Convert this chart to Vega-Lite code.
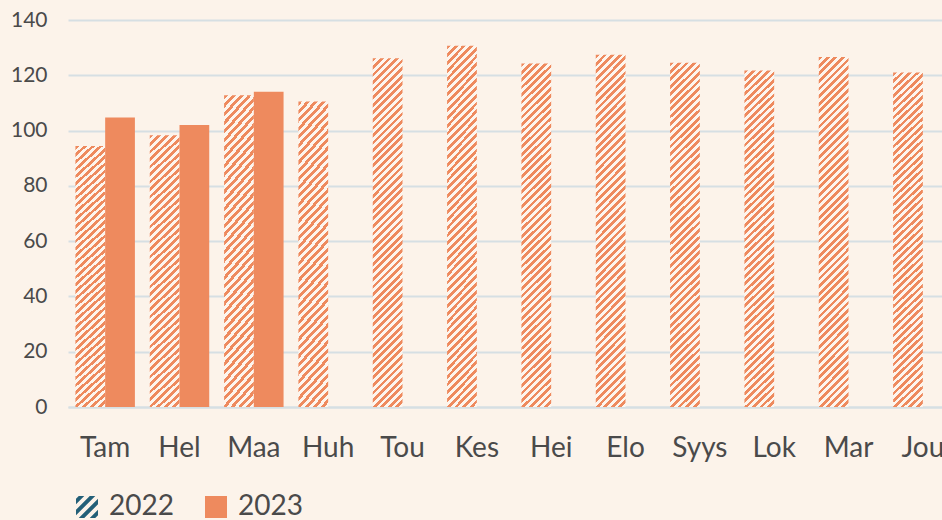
{
  "$schema": "https://vega.github.io/schema/vega-lite/v6.json",
  "width": 892,
  "height": 387,
  "autosize": {"type": "none"},
  "padding": {"left": 68, "top": 20, "right": -18, "bottom": 113},
  "background": "#fcf3ea",
  "config": {
    "view": {"stroke": null},
    "font": "Lato",
    "legend": {
      "labelFont": "Lato",
      "labelFontSize": 28,
      "labelColor": "#4a4a4a",
      "labelOffset": 8,
      "columnPadding": 28,
      "symbolSize": 484,
      "symbolStrokeWidth": 0,
      "symbolOpacity": 1,
      "padding": 0
    }
  },
  "data": {
    "values": [
      {"month": "Tam", "year": "2022", "value": 94.4, "grp": "a"},
      {"month": "Hel", "year": "2022", "value": 98.3, "grp": "a"},
      {"month": "Maa", "year": "2022", "value": 112.8, "grp": "a"},
      {"month": "Huh", "year": "2022", "value": 110.5, "grp": "a"},
      {"month": "Tou", "year": "2022", "value": 126.2, "grp": "b"},
      {"month": "Kes", "year": "2022", "value": 130.7, "grp": "b"},
      {"month": "Hei", "year": "2022", "value": 124.3, "grp": "b"},
      {"month": "Elo", "year": "2022", "value": 127.4, "grp": "b"},
      {"month": "Syys", "year": "2022", "value": 124.5, "grp": "b"},
      {"month": "Lok", "year": "2022", "value": 121.7, "grp": "b"},
      {"month": "Mar", "year": "2022", "value": 126.6, "grp": "b"},
      {"month": "Jou", "year": "2022", "value": 121.0, "grp": "b"},
      {"month": "Tam", "year": "2023", "value": 104.7, "grp": "s"},
      {"month": "Hel", "year": "2023", "value": 102.0, "grp": "s"},
      {"month": "Maa", "year": "2023", "value": 114.0, "grp": "s"}
    ]
  },
  "encoding": {
    "x": {
      "field": "month",
      "type": "nominal",
      "sort": ["Tam", "Hel", "Maa", "Huh", "Tou", "Kes", "Hei", "Elo", "Syys", "Lok", "Mar", "Jou"],
      "scale": {"paddingInner": 0.2, "paddingOuter": 0.1},
      "axis": {
        "title": null,
        "labelAngle": 0,
        "labelFontSize": 28,
        "labelColor": "#4a4a4a",
        "labelPadding": 27,
        "ticks": false,
        "domainColor": "#d6dfe3",
        "domainWidth": 2
      }
    },
    "xOffset": {
      "field": "year",
      "type": "nominal",
      "scale": {"domain": ["2022", "2023"], "paddingInner": 0, "paddingOuter": 0}
    },
    "y": {
      "field": "value",
      "type": "quantitative",
      "scale": {"domain": [0, 140]},
      "axis": {
        "title": null,
        "values": [0, 20, 40, 60, 80, 100, 120, 140],
        "grid": true,
        "gridColor": "#d6dfe3",
        "gridWidth": 2,
        "domain": false,
        "ticks": false,
        "labelFontSize": 21,
        "labelColor": "#4a4a4a",
        "labelAlign": "right",
        "labelBaseline": "middle",
        "labelPadding": 21
      }
    }
  },
  "layer": [
    {
      "transform": [{"filter": "datum.grp === 'a'"}],
      "mark": {
        "type": "bar",
        "color": {
          "gradient": "linear",
          "x1": 0, "y1": 0, "x2": 0.1138, "y2": 1.0923,
          "stops": [
            {"offset": 0, "color": "#ee8a5e"}, {"offset": 0.0125, "color": "#ee8a5e"}, {"offset": 0.0125, "color": "#fdf5ee"}, {"offset": 0.025, "color": "#fdf5ee"},
            {"offset": 0.025, "color": "#ee8a5e"}, {"offset": 0.0375, "color": "#ee8a5e"}, {"offset": 0.0375, "color": "#fdf5ee"}, {"offset": 0.05, "color": "#fdf5ee"},
            {"offset": 0.05, "color": "#ee8a5e"}, {"offset": 0.0625, "color": "#ee8a5e"}, {"offset": 0.0625, "color": "#fdf5ee"}, {"offset": 0.075, "color": "#fdf5ee"},
            {"offset": 0.075, "color": "#ee8a5e"}, {"offset": 0.0875, "color": "#ee8a5e"}, {"offset": 0.0875, "color": "#fdf5ee"}, {"offset": 0.1, "color": "#fdf5ee"},
            {"offset": 0.1, "color": "#ee8a5e"}, {"offset": 0.1125, "color": "#ee8a5e"}, {"offset": 0.1125, "color": "#fdf5ee"}, {"offset": 0.125, "color": "#fdf5ee"},
            {"offset": 0.125, "color": "#ee8a5e"}, {"offset": 0.1375, "color": "#ee8a5e"}, {"offset": 0.1375, "color": "#fdf5ee"}, {"offset": 0.15, "color": "#fdf5ee"},
            {"offset": 0.15, "color": "#ee8a5e"}, {"offset": 0.1625, "color": "#ee8a5e"}, {"offset": 0.1625, "color": "#fdf5ee"}, {"offset": 0.175, "color": "#fdf5ee"},
            {"offset": 0.175, "color": "#ee8a5e"}, {"offset": 0.1875, "color": "#ee8a5e"}, {"offset": 0.1875, "color": "#fdf5ee"}, {"offset": 0.2, "color": "#fdf5ee"},
            {"offset": 0.2, "color": "#ee8a5e"}, {"offset": 0.2125, "color": "#ee8a5e"}, {"offset": 0.2125, "color": "#fdf5ee"}, {"offset": 0.225, "color": "#fdf5ee"},
            {"offset": 0.225, "color": "#ee8a5e"}, {"offset": 0.2375, "color": "#ee8a5e"}, {"offset": 0.2375, "color": "#fdf5ee"}, {"offset": 0.25, "color": "#fdf5ee"},
            {"offset": 0.25, "color": "#ee8a5e"}, {"offset": 0.2625, "color": "#ee8a5e"}, {"offset": 0.2625, "color": "#fdf5ee"}, {"offset": 0.275, "color": "#fdf5ee"},
            {"offset": 0.275, "color": "#ee8a5e"}, {"offset": 0.2875, "color": "#ee8a5e"}, {"offset": 0.2875, "color": "#fdf5ee"}, {"offset": 0.3, "color": "#fdf5ee"},
            {"offset": 0.3, "color": "#ee8a5e"}, {"offset": 0.3125, "color": "#ee8a5e"}, {"offset": 0.3125, "color": "#fdf5ee"}, {"offset": 0.325, "color": "#fdf5ee"},
            {"offset": 0.325, "color": "#ee8a5e"}, {"offset": 0.3375, "color": "#ee8a5e"}, {"offset": 0.3375, "color": "#fdf5ee"}, {"offset": 0.35, "color": "#fdf5ee"},
            {"offset": 0.35, "color": "#ee8a5e"}, {"offset": 0.3625, "color": "#ee8a5e"}, {"offset": 0.3625, "color": "#fdf5ee"}, {"offset": 0.375, "color": "#fdf5ee"},
            {"offset": 0.375, "color": "#ee8a5e"}, {"offset": 0.3875, "color": "#ee8a5e"}, {"offset": 0.3875, "color": "#fdf5ee"}, {"offset": 0.4, "color": "#fdf5ee"},
            {"offset": 0.4, "color": "#ee8a5e"}, {"offset": 0.4125, "color": "#ee8a5e"}, {"offset": 0.4125, "color": "#fdf5ee"}, {"offset": 0.425, "color": "#fdf5ee"},
            {"offset": 0.425, "color": "#ee8a5e"}, {"offset": 0.4375, "color": "#ee8a5e"}, {"offset": 0.4375, "color": "#fdf5ee"}, {"offset": 0.45, "color": "#fdf5ee"},
            {"offset": 0.45, "color": "#ee8a5e"}, {"offset": 0.4625, "color": "#ee8a5e"}, {"offset": 0.4625, "color": "#fdf5ee"}, {"offset": 0.475, "color": "#fdf5ee"},
            {"offset": 0.475, "color": "#ee8a5e"}, {"offset": 0.4875, "color": "#ee8a5e"}, {"offset": 0.4875, "color": "#fdf5ee"}, {"offset": 0.5, "color": "#fdf5ee"},
            {"offset": 0.5, "color": "#ee8a5e"}, {"offset": 0.5125, "color": "#ee8a5e"}, {"offset": 0.5125, "color": "#fdf5ee"}, {"offset": 0.525, "color": "#fdf5ee"},
            {"offset": 0.525, "color": "#ee8a5e"}, {"offset": 0.5375, "color": "#ee8a5e"}, {"offset": 0.5375, "color": "#fdf5ee"}, {"offset": 0.55, "color": "#fdf5ee"},
            {"offset": 0.55, "color": "#ee8a5e"}, {"offset": 0.5625, "color": "#ee8a5e"}, {"offset": 0.5625, "color": "#fdf5ee"}, {"offset": 0.575, "color": "#fdf5ee"},
            {"offset": 0.575, "color": "#ee8a5e"}, {"offset": 0.5875, "color": "#ee8a5e"}, {"offset": 0.5875, "color": "#fdf5ee"}, {"offset": 0.6, "color": "#fdf5ee"},
            {"offset": 0.6, "color": "#ee8a5e"}, {"offset": 0.6125, "color": "#ee8a5e"}, {"offset": 0.6125, "color": "#fdf5ee"}, {"offset": 0.625, "color": "#fdf5ee"},
            {"offset": 0.625, "color": "#ee8a5e"}, {"offset": 0.6375, "color": "#ee8a5e"}, {"offset": 0.6375, "color": "#fdf5ee"}, {"offset": 0.65, "color": "#fdf5ee"},
            {"offset": 0.65, "color": "#ee8a5e"}, {"offset": 0.6625, "color": "#ee8a5e"}, {"offset": 0.6625, "color": "#fdf5ee"}, {"offset": 0.675, "color": "#fdf5ee"},
            {"offset": 0.675, "color": "#ee8a5e"}, {"offset": 0.6875, "color": "#ee8a5e"}, {"offset": 0.6875, "color": "#fdf5ee"}, {"offset": 0.7, "color": "#fdf5ee"},
            {"offset": 0.7, "color": "#ee8a5e"}, {"offset": 0.7125, "color": "#ee8a5e"}, {"offset": 0.7125, "color": "#fdf5ee"}, {"offset": 0.725, "color": "#fdf5ee"},
            {"offset": 0.725, "color": "#ee8a5e"}, {"offset": 0.7375, "color": "#ee8a5e"}, {"offset": 0.7375, "color": "#fdf5ee"}, {"offset": 0.75, "color": "#fdf5ee"},
            {"offset": 0.75, "color": "#ee8a5e"}, {"offset": 0.7625, "color": "#ee8a5e"}, {"offset": 0.7625, "color": "#fdf5ee"}, {"offset": 0.775, "color": "#fdf5ee"},
            {"offset": 0.775, "color": "#ee8a5e"}, {"offset": 0.7875, "color": "#ee8a5e"}, {"offset": 0.7875, "color": "#fdf5ee"}, {"offset": 0.8, "color": "#fdf5ee"},
            {"offset": 0.8, "color": "#ee8a5e"}, {"offset": 0.8125, "color": "#ee8a5e"}, {"offset": 0.8125, "color": "#fdf5ee"}, {"offset": 0.825, "color": "#fdf5ee"},
            {"offset": 0.825, "color": "#ee8a5e"}, {"offset": 0.8375, "color": "#ee8a5e"}, {"offset": 0.8375, "color": "#fdf5ee"}, {"offset": 0.85, "color": "#fdf5ee"},
            {"offset": 0.85, "color": "#ee8a5e"}, {"offset": 0.8625, "color": "#ee8a5e"}, {"offset": 0.8625, "color": "#fdf5ee"}, {"offset": 0.875, "color": "#fdf5ee"},
            {"offset": 0.875, "color": "#ee8a5e"}, {"offset": 0.8875, "color": "#ee8a5e"}, {"offset": 0.8875, "color": "#fdf5ee"}, {"offset": 0.9, "color": "#fdf5ee"},
            {"offset": 0.9, "color": "#ee8a5e"}, {"offset": 0.9125, "color": "#ee8a5e"}, {"offset": 0.9125, "color": "#fdf5ee"}, {"offset": 0.925, "color": "#fdf5ee"},
            {"offset": 0.925, "color": "#ee8a5e"}, {"offset": 0.9375, "color": "#ee8a5e"}, {"offset": 0.9375, "color": "#fdf5ee"}, {"offset": 0.95, "color": "#fdf5ee"},
            {"offset": 0.95, "color": "#ee8a5e"}, {"offset": 0.9625, "color": "#ee8a5e"}, {"offset": 0.9625, "color": "#fdf5ee"}, {"offset": 0.975, "color": "#fdf5ee"},
            {"offset": 0.975, "color": "#ee8a5e"}, {"offset": 0.9875, "color": "#ee8a5e"}, {"offset": 0.9875, "color": "#fdf5ee"}, {"offset": 1, "color": "#fdf5ee"}
          ]
        }
      }
    },
    {
      "transform": [{"filter": "datum.grp === 'b'"}],
      "mark": {
        "type": "bar",
        "color": {
          "gradient": "linear",
          "x1": 0, "y1": 0, "x2": 0.0919, "y2": 1.0775,
          "stops": [
            {"offset": 0, "color": "#ee8a5e"}, {"offset": 0.01, "color": "#ee8a5e"}, {"offset": 0.01, "color": "#fdf5ee"}, {"offset": 0.02, "color": "#fdf5ee"},
            {"offset": 0.02, "color": "#ee8a5e"}, {"offset": 0.03, "color": "#ee8a5e"}, {"offset": 0.03, "color": "#fdf5ee"}, {"offset": 0.04, "color": "#fdf5ee"},
            {"offset": 0.04, "color": "#ee8a5e"}, {"offset": 0.05, "color": "#ee8a5e"}, {"offset": 0.05, "color": "#fdf5ee"}, {"offset": 0.06, "color": "#fdf5ee"},
            {"offset": 0.06, "color": "#ee8a5e"}, {"offset": 0.07, "color": "#ee8a5e"}, {"offset": 0.07, "color": "#fdf5ee"}, {"offset": 0.08, "color": "#fdf5ee"},
            {"offset": 0.08, "color": "#ee8a5e"}, {"offset": 0.09, "color": "#ee8a5e"}, {"offset": 0.09, "color": "#fdf5ee"}, {"offset": 0.10, "color": "#fdf5ee"},
            {"offset": 0.10, "color": "#ee8a5e"}, {"offset": 0.11, "color": "#ee8a5e"}, {"offset": 0.11, "color": "#fdf5ee"}, {"offset": 0.12, "color": "#fdf5ee"},
            {"offset": 0.12, "color": "#ee8a5e"}, {"offset": 0.13, "color": "#ee8a5e"}, {"offset": 0.13, "color": "#fdf5ee"}, {"offset": 0.14, "color": "#fdf5ee"},
            {"offset": 0.14, "color": "#ee8a5e"}, {"offset": 0.15, "color": "#ee8a5e"}, {"offset": 0.15, "color": "#fdf5ee"}, {"offset": 0.16, "color": "#fdf5ee"},
            {"offset": 0.16, "color": "#ee8a5e"}, {"offset": 0.17, "color": "#ee8a5e"}, {"offset": 0.17, "color": "#fdf5ee"}, {"offset": 0.18, "color": "#fdf5ee"},
            {"offset": 0.18, "color": "#ee8a5e"}, {"offset": 0.19, "color": "#ee8a5e"}, {"offset": 0.19, "color": "#fdf5ee"}, {"offset": 0.20, "color": "#fdf5ee"},
            {"offset": 0.20, "color": "#ee8a5e"}, {"offset": 0.21, "color": "#ee8a5e"}, {"offset": 0.21, "color": "#fdf5ee"}, {"offset": 0.22, "color": "#fdf5ee"},
            {"offset": 0.22, "color": "#ee8a5e"}, {"offset": 0.23, "color": "#ee8a5e"}, {"offset": 0.23, "color": "#fdf5ee"}, {"offset": 0.24, "color": "#fdf5ee"},
            {"offset": 0.24, "color": "#ee8a5e"}, {"offset": 0.25, "color": "#ee8a5e"}, {"offset": 0.25, "color": "#fdf5ee"}, {"offset": 0.26, "color": "#fdf5ee"},
            {"offset": 0.26, "color": "#ee8a5e"}, {"offset": 0.27, "color": "#ee8a5e"}, {"offset": 0.27, "color": "#fdf5ee"}, {"offset": 0.28, "color": "#fdf5ee"},
            {"offset": 0.28, "color": "#ee8a5e"}, {"offset": 0.29, "color": "#ee8a5e"}, {"offset": 0.29, "color": "#fdf5ee"}, {"offset": 0.30, "color": "#fdf5ee"},
            {"offset": 0.30, "color": "#ee8a5e"}, {"offset": 0.31, "color": "#ee8a5e"}, {"offset": 0.31, "color": "#fdf5ee"}, {"offset": 0.32, "color": "#fdf5ee"},
            {"offset": 0.32, "color": "#ee8a5e"}, {"offset": 0.33, "color": "#ee8a5e"}, {"offset": 0.33, "color": "#fdf5ee"}, {"offset": 0.34, "color": "#fdf5ee"},
            {"offset": 0.34, "color": "#ee8a5e"}, {"offset": 0.35, "color": "#ee8a5e"}, {"offset": 0.35, "color": "#fdf5ee"}, {"offset": 0.36, "color": "#fdf5ee"},
            {"offset": 0.36, "color": "#ee8a5e"}, {"offset": 0.37, "color": "#ee8a5e"}, {"offset": 0.37, "color": "#fdf5ee"}, {"offset": 0.38, "color": "#fdf5ee"},
            {"offset": 0.38, "color": "#ee8a5e"}, {"offset": 0.39, "color": "#ee8a5e"}, {"offset": 0.39, "color": "#fdf5ee"}, {"offset": 0.40, "color": "#fdf5ee"},
            {"offset": 0.40, "color": "#ee8a5e"}, {"offset": 0.41, "color": "#ee8a5e"}, {"offset": 0.41, "color": "#fdf5ee"}, {"offset": 0.42, "color": "#fdf5ee"},
            {"offset": 0.42, "color": "#ee8a5e"}, {"offset": 0.43, "color": "#ee8a5e"}, {"offset": 0.43, "color": "#fdf5ee"}, {"offset": 0.44, "color": "#fdf5ee"},
            {"offset": 0.44, "color": "#ee8a5e"}, {"offset": 0.45, "color": "#ee8a5e"}, {"offset": 0.45, "color": "#fdf5ee"}, {"offset": 0.46, "color": "#fdf5ee"},
            {"offset": 0.46, "color": "#ee8a5e"}, {"offset": 0.47, "color": "#ee8a5e"}, {"offset": 0.47, "color": "#fdf5ee"}, {"offset": 0.48, "color": "#fdf5ee"},
            {"offset": 0.48, "color": "#ee8a5e"}, {"offset": 0.49, "color": "#ee8a5e"}, {"offset": 0.49, "color": "#fdf5ee"}, {"offset": 0.50, "color": "#fdf5ee"},
            {"offset": 0.50, "color": "#ee8a5e"}, {"offset": 0.51, "color": "#ee8a5e"}, {"offset": 0.51, "color": "#fdf5ee"}, {"offset": 0.52, "color": "#fdf5ee"},
            {"offset": 0.52, "color": "#ee8a5e"}, {"offset": 0.53, "color": "#ee8a5e"}, {"offset": 0.53, "color": "#fdf5ee"}, {"offset": 0.54, "color": "#fdf5ee"},
            {"offset": 0.54, "color": "#ee8a5e"}, {"offset": 0.55, "color": "#ee8a5e"}, {"offset": 0.55, "color": "#fdf5ee"}, {"offset": 0.56, "color": "#fdf5ee"},
            {"offset": 0.56, "color": "#ee8a5e"}, {"offset": 0.57, "color": "#ee8a5e"}, {"offset": 0.57, "color": "#fdf5ee"}, {"offset": 0.58, "color": "#fdf5ee"},
            {"offset": 0.58, "color": "#ee8a5e"}, {"offset": 0.59, "color": "#ee8a5e"}, {"offset": 0.59, "color": "#fdf5ee"}, {"offset": 0.60, "color": "#fdf5ee"},
            {"offset": 0.60, "color": "#ee8a5e"}, {"offset": 0.61, "color": "#ee8a5e"}, {"offset": 0.61, "color": "#fdf5ee"}, {"offset": 0.62, "color": "#fdf5ee"},
            {"offset": 0.62, "color": "#ee8a5e"}, {"offset": 0.63, "color": "#ee8a5e"}, {"offset": 0.63, "color": "#fdf5ee"}, {"offset": 0.64, "color": "#fdf5ee"},
            {"offset": 0.64, "color": "#ee8a5e"}, {"offset": 0.65, "color": "#ee8a5e"}, {"offset": 0.65, "color": "#fdf5ee"}, {"offset": 0.66, "color": "#fdf5ee"},
            {"offset": 0.66, "color": "#ee8a5e"}, {"offset": 0.67, "color": "#ee8a5e"}, {"offset": 0.67, "color": "#fdf5ee"}, {"offset": 0.68, "color": "#fdf5ee"},
            {"offset": 0.68, "color": "#ee8a5e"}, {"offset": 0.69, "color": "#ee8a5e"}, {"offset": 0.69, "color": "#fdf5ee"}, {"offset": 0.70, "color": "#fdf5ee"},
            {"offset": 0.70, "color": "#ee8a5e"}, {"offset": 0.71, "color": "#ee8a5e"}, {"offset": 0.71, "color": "#fdf5ee"}, {"offset": 0.72, "color": "#fdf5ee"},
            {"offset": 0.72, "color": "#ee8a5e"}, {"offset": 0.73, "color": "#ee8a5e"}, {"offset": 0.73, "color": "#fdf5ee"}, {"offset": 0.74, "color": "#fdf5ee"},
            {"offset": 0.74, "color": "#ee8a5e"}, {"offset": 0.75, "color": "#ee8a5e"}, {"offset": 0.75, "color": "#fdf5ee"}, {"offset": 0.76, "color": "#fdf5ee"},
            {"offset": 0.76, "color": "#ee8a5e"}, {"offset": 0.77, "color": "#ee8a5e"}, {"offset": 0.77, "color": "#fdf5ee"}, {"offset": 0.78, "color": "#fdf5ee"},
            {"offset": 0.78, "color": "#ee8a5e"}, {"offset": 0.79, "color": "#ee8a5e"}, {"offset": 0.79, "color": "#fdf5ee"}, {"offset": 0.80, "color": "#fdf5ee"},
            {"offset": 0.80, "color": "#ee8a5e"}, {"offset": 0.81, "color": "#ee8a5e"}, {"offset": 0.81, "color": "#fdf5ee"}, {"offset": 0.82, "color": "#fdf5ee"},
            {"offset": 0.82, "color": "#ee8a5e"}, {"offset": 0.83, "color": "#ee8a5e"}, {"offset": 0.83, "color": "#fdf5ee"}, {"offset": 0.84, "color": "#fdf5ee"},
            {"offset": 0.84, "color": "#ee8a5e"}, {"offset": 0.85, "color": "#ee8a5e"}, {"offset": 0.85, "color": "#fdf5ee"}, {"offset": 0.86, "color": "#fdf5ee"},
            {"offset": 0.86, "color": "#ee8a5e"}, {"offset": 0.87, "color": "#ee8a5e"}, {"offset": 0.87, "color": "#fdf5ee"}, {"offset": 0.88, "color": "#fdf5ee"},
            {"offset": 0.88, "color": "#ee8a5e"}, {"offset": 0.89, "color": "#ee8a5e"}, {"offset": 0.89, "color": "#fdf5ee"}, {"offset": 0.90, "color": "#fdf5ee"},
            {"offset": 0.90, "color": "#ee8a5e"}, {"offset": 0.91, "color": "#ee8a5e"}, {"offset": 0.91, "color": "#fdf5ee"}, {"offset": 0.92, "color": "#fdf5ee"},
            {"offset": 0.92, "color": "#ee8a5e"}, {"offset": 0.93, "color": "#ee8a5e"}, {"offset": 0.93, "color": "#fdf5ee"}, {"offset": 0.94, "color": "#fdf5ee"},
            {"offset": 0.94, "color": "#ee8a5e"}, {"offset": 0.95, "color": "#ee8a5e"}, {"offset": 0.95, "color": "#fdf5ee"}, {"offset": 0.96, "color": "#fdf5ee"},
            {"offset": 0.96, "color": "#ee8a5e"}, {"offset": 0.97, "color": "#ee8a5e"}, {"offset": 0.97, "color": "#fdf5ee"}, {"offset": 0.98, "color": "#fdf5ee"},
            {"offset": 0.98, "color": "#ee8a5e"}, {"offset": 0.99, "color": "#ee8a5e"}, {"offset": 0.99, "color": "#fdf5ee"}, {"offset": 1, "color": "#fdf5ee"}
          ]
        }
      }
    },
    {
      "transform": [{"filter": "datum.grp === 's'"}],
      "mark": {"type": "bar", "color": "#ee8a5e"}
    },
    {
      "mark": {"type": "point", "filled": true, "opacity": 0},
      "encoding": {
        "color": {
          "field": "year",
          "type": "nominal",
          "scale": {"domain": ["2022", "2023"], "range": ["#235f78", "#ee8a5e"]},
          "legend": {"orient": "none", "legendX": 5, "legendY": 473, "direction": "horizontal", "title": null}
        },
        "shape": {
          "field": "year",
          "type": "nominal",
          "scale": {
            "domain": ["2022", "2023"],
            "range": ["M-1,-0.75L-0.75,-1L-0.25,-1L-1,-0.25ZM-1,0.25L0.25,-1L0.75,-1L-1,0.75ZM-0.75,1L1,-0.75L1,-0.25L-0.25,1ZM0.25,1L1,0.25L1,0.75L0.75,1Z", "square"]
          },
          "legend": {"orient": "none", "legendX": 5, "legendY": 473, "direction": "horizontal", "title": null}
        }
      }
    }
  ]
}
